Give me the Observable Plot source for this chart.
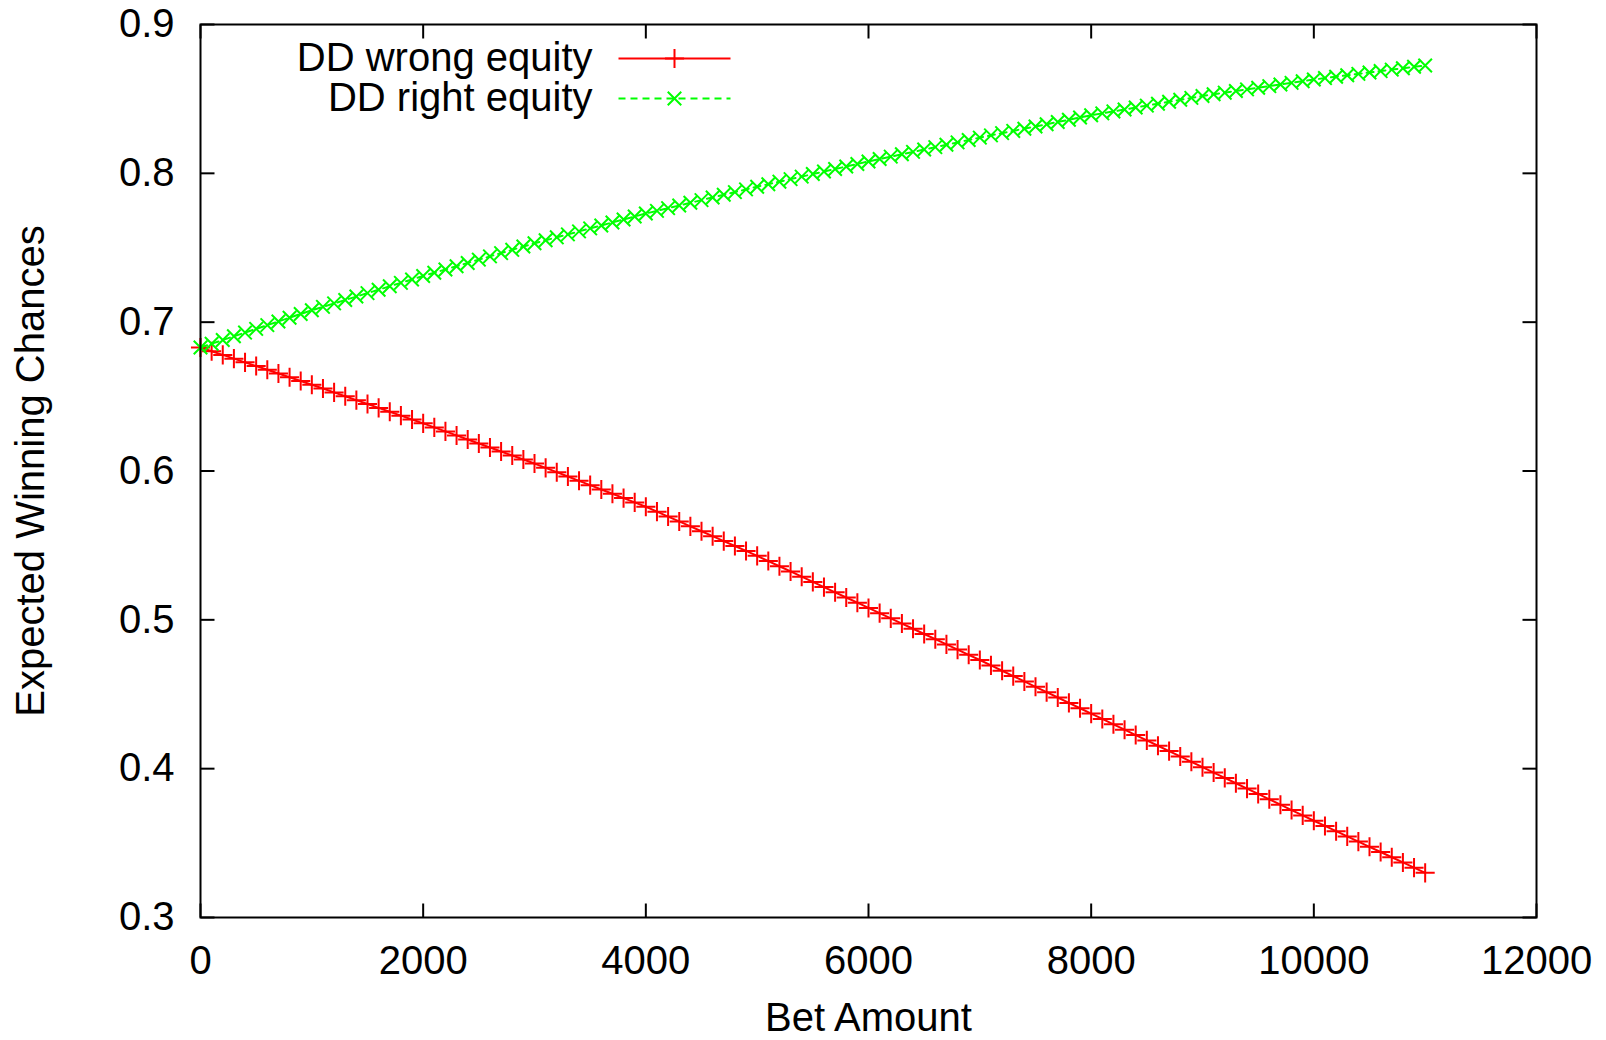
<!DOCTYPE html>
<html>
<head>
<meta charset="utf-8">
<script src="https://cdn.jsdelivr.net/npm/d3@7"></script>
<script src="https://cdn.jsdelivr.net/npm/@observablehq/plot@0.6"></script>
<style>
  html, body { margin: 0; padding: 0; background: white; }
</style>
</head>
<body>
<div id="chart"></div>
<script>
const betAmount = [
  0,100,200,300,400,500,600,700,800,900,1000,
  1100,1200,1300,1400,1500,1600,1700,1800,1900,2000,
  2100,2200,2300,2400,2500,2600,2700,2800,2900,3000,
  3100,3200,3300,3400,3500,3600,3700,3800,3900,4000,
  4100,4200,4300,4400,4500,4600,4700,4800,4900,5000,
  5100,5200,5300,5400,5500,5600,5700,5800,5900,6000,
  6100,6200,6300,6400,6500,6600,6700,6800,6900,7000,
  7100,7200,7300,7400,7500,7600,7700,7800,7900,8000,
  8100,8200,8300,8400,8500,8600,8700,8800,8900,9000,
  9100,9200,9300,9400,9500,9600,9700,9800,9900,10000,
  10100,10200,10300,10400,10500,10600,10700,10800,10900,11000
];
const wrongEquity = [
  0.6830,0.6805,0.6780,0.6755,0.6730,0.6705,0.6680,0.6655,0.6630,0.6605,0.6580,
  0.6554,0.6528,0.6502,0.6476,0.6450,0.6424,0.6398,0.6372,0.6346,0.6320,
  0.6293,0.6266,0.6239,0.6212,0.6185,0.6158,0.6131,0.6104,0.6077,0.6050,
  0.6021,0.5992,0.5963,0.5934,0.5905,0.5876,0.5847,0.5818,0.5789,0.5760,
  0.5727,0.5694,0.5661,0.5628,0.5595,0.5562,0.5529,0.5496,0.5463,0.5430,
  0.5395,0.5360,0.5325,0.5290,0.5255,0.5220,0.5185,0.5150,0.5115,0.5080,
  0.5045,0.5010,0.4975,0.4940,0.4905,0.4870,0.4835,0.4800,0.4765,0.4730,
  0.4694,0.4658,0.4622,0.4586,0.4550,0.4514,0.4478,0.4442,0.4406,0.4370,
  0.4334,0.4298,0.4262,0.4226,0.4190,0.4154,0.4118,0.4082,0.4046,0.4010,
  0.3974,0.3938,0.3902,0.3866,0.3830,0.3794,0.3758,0.3722,0.3686,0.3650,
  0.3615,0.3580,0.3545,0.3510,0.3475,0.3440,0.3405,0.3370,0.3335,0.3300
];
const rightEquity = [
  0.6830,0.6855,0.6880,0.6905,0.6930,0.6955,0.6980,0.7005,0.7030,0.7055,0.7080,
  0.7103,0.7126,0.7149,0.7172,0.7195,0.7218,0.7241,0.7264,0.7287,0.7310,
  0.7332,0.7354,0.7376,0.7398,0.7420,0.7442,0.7464,0.7486,0.7508,0.7530,
  0.7550,0.7570,0.7590,0.7610,0.7630,0.7650,0.7670,0.7690,0.7710,0.7730,
  0.7748,0.7766,0.7784,0.7802,0.7820,0.7838,0.7856,0.7874,0.7892,0.7910,
  0.7927,0.7944,0.7961,0.7978,0.7995,0.8012,0.8029,0.8046,0.8063,0.8080,
  0.8096,0.8112,0.8128,0.8144,0.8160,0.8176,0.8192,0.8208,0.8224,0.8240,
  0.8255,0.8270,0.8285,0.8300,0.8315,0.8330,0.8345,0.8360,0.8375,0.8390,
  0.8403,0.8416,0.8429,0.8442,0.8455,0.8468,0.8481,0.8494,0.8507,0.8520,
  0.8531,0.8542,0.8553,0.8564,0.8575,0.8586,0.8597,0.8608,0.8619,0.8630,
  0.8640,0.8649,0.8659,0.8668,0.8678,0.8687,0.8697,0.8706,0.8716,0.8725
];
const seriesNames = ["DD wrong equity", "DD right equity"];
const xTicks = [0, 2000, 4000, 6000, 8000, 10000, 12000];
const yTicks = [0.3, 0.4, 0.5, 0.6, 0.7, 0.8, 0.9];
const xLabel = "Bet Amount";
const yLabel = "Expected Winning Chances";

const rows = betAmount.map((b, i) => ({bet: b, wrong: wrongEquity[i], right: rightEquity[i]}));

const RED = "#ff0000";
const GREEN = "#00ff00";
const T = 14; // tick length
const tickUp = {draw(ctx) { ctx.moveTo(0, 0); ctx.lineTo(0, -T); }};
const tickDown = {draw(ctx) { ctx.moveTo(0, 0); ctx.lineTo(0, T); }};
const tickRight = {draw(ctx) { ctx.moveTo(0, 0); ctx.lineTo(T, 0); }};
const tickLeft = {draw(ctx) { ctx.moveTo(0, 0); ctx.lineTo(-T, 0); }};
const legendLine = {draw(ctx) { ctx.moveTo(-56, 0); ctx.lineTo(56, 0); }};

const FS = 40;
const chart = Plot.plot({
  width: 1606,
  height: 1040,
  marginTop: 24,
  marginRight: 70,
  marginBottom: 123,
  marginLeft: 200,
  style: {fontFamily: "'Liberation Sans', Arial, Helvetica, sans-serif", fontSize: FS + "px", background: "white", color: "black"},
  x: {domain: [0, 12000]},
  y: {domain: [0.3, 0.9]},
  marks: [
    // ticks (inward on all four sides)
    Plot.dot(xTicks, {x: d => d, y: 0.3, symbol: tickUp, fill: "none", stroke: "black", strokeWidth: 2}),
    Plot.dot(xTicks, {x: d => d, y: 0.9, symbol: tickDown, fill: "none", stroke: "black", strokeWidth: 2}),
    Plot.dot(yTicks, {x: 0, y: d => d, symbol: tickRight, fill: "none", stroke: "black", strokeWidth: 2}),
    Plot.dot(yTicks, {x: 12000, y: d => d, symbol: tickLeft, fill: "none", stroke: "black", strokeWidth: 2}),
    Plot.axisX({ticks: xTicks, tickSize: 0, tickPadding: 28, label: null, fontSize: FS, tickFormat: d => String(d)}),
    Plot.axisY({ticks: yTicks, tickSize: 0, tickPadding: 26, label: null, fontSize: FS, tickFormat: d => d.toFixed(1)}),
    // series
    Plot.line(rows, {x: "bet", y: "wrong", stroke: RED, strokeWidth: 2}),
    Plot.dot(rows, {x: "bet", y: "wrong", symbol: "plus", r: 6.2, stroke: RED, strokeWidth: 2}),
    Plot.line(rows, {x: "bet", y: "right", stroke: GREEN, strokeWidth: 2, strokeDasharray: "7,5"}),
    Plot.dot(rows, {x: "bet", y: "right", symbol: "times", r: 6.2, stroke: GREEN, strokeWidth: 2}),
    // frame
    Plot.frame({stroke: "black", strokeWidth: 2}),
    // axis titles
    Plot.text([xLabel], {text: d => d, frameAnchor: "bottom", dy: 101, textAnchor: "middle", lineAnchor: "middle", fontSize: FS, fill: "black"}),
    Plot.text([yLabel], {text: d => d, frameAnchor: "left", dx: -169, rotate: -90, textAnchor: "middle", lineAnchor: "middle", fontSize: FS, fill: "black"}),
    // legend
    Plot.text([seriesNames[0]], {text: d => d, frameAnchor: "top-left", dx: 392, dy: 34, textAnchor: "end", lineAnchor: "middle", fontSize: FS, fill: "black"}),
    Plot.dot([0], {frameAnchor: "top-left", dx: 474, dy: 34, symbol: legendLine, fill: "none", stroke: RED, strokeWidth: 2}),
    Plot.dot([0], {frameAnchor: "top-left", dx: 474, dy: 34, symbol: "plus", r: 6.2, stroke: RED, strokeWidth: 2}),
    Plot.text([seriesNames[1]], {text: d => d, frameAnchor: "top-left", dx: 392, dy: 74, textAnchor: "end", lineAnchor: "middle", fontSize: FS, fill: "black"}),
    Plot.dot([0], {frameAnchor: "top-left", dx: 474, dy: 74, symbol: legendLine, fill: "none", stroke: GREEN, strokeWidth: 2, strokeDasharray: "7,5"}),
    Plot.dot([0], {frameAnchor: "top-left", dx: 474, dy: 74, symbol: "times", r: 6.2, stroke: GREEN, strokeWidth: 2})
  ]
});
document.getElementById("chart").appendChild(chart);
</script>
</body>
</html>
